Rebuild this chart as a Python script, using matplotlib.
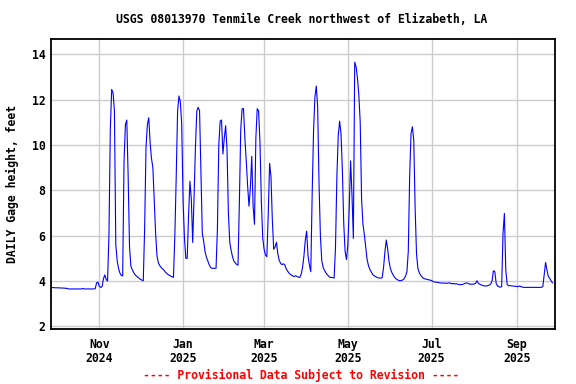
import pandas as pd
import matplotlib
matplotlib.use("Agg")
import matplotlib.pyplot as plt

# ==== DATA (daily gage height, feet) ====
START_DATE = "2024-09-27"

sep_2024 = [3.72, 3.71, 3.71, 3.70]
oct_2024 = [3.70, 3.70, 3.70, 3.69, 3.69, 3.69, 3.68, 3.68, 3.66,
            3.65, 3.65, 3.65, 3.65, 3.65, 3.65, 3.65, 3.65, 3.65, 3.65,
            3.67, 3.65, 3.65, 3.65, 3.65, 3.65, 3.65, 3.65, 3.65,
            3.66, 3.92, 3.95]
nov_2024 = [3.76, 3.72, 3.75, 4.10, 4.27, 4.07, 4.00, 6.00, 10.66, 12.45,
            12.30, 11.50, 5.60, 4.90, 4.55, 4.35, 4.25, 4.22, 9.30, 10.90,
            11.10, 8.60, 5.50, 4.65, 4.50, 4.38, 4.28, 4.22, 4.17, 4.12]
dec_2024 = [4.07, 4.04, 4.01, 6.30, 9.90, 10.90, 11.20, 10.10, 9.40, 9.00,
            7.60, 6.10, 5.10, 4.80, 4.68, 4.60, 4.54, 4.48, 4.40, 4.34,
            4.29, 4.25, 4.22, 4.19, 4.16, 6.00, 8.60, 11.50, 12.16, 11.90,
            10.90]
jan_2025 = [7.50, 5.90, 5.00, 5.00, 6.90, 8.40, 7.60, 5.70, 7.70, 9.90,
            11.50, 11.66, 11.50, 8.80, 6.10, 5.75, 5.30, 5.05, 4.88, 4.72,
            4.60, 4.56, 4.56, 4.56, 4.56, 6.30, 10.00, 11.05, 11.10, 9.60,
            10.30]
feb_2025 = [10.85, 9.80, 7.00, 5.70, 5.35, 5.07, 4.88, 4.80, 4.73, 4.70,
            7.50, 10.70, 11.60, 11.60, 10.30, 9.30, 8.20, 7.30, 8.10, 9.50,
            7.30, 6.50, 10.30, 11.60, 11.50, 10.10, 7.50, 5.90]
mar_2025 = [5.40, 5.15, 5.07, 6.90, 9.19, 8.60, 6.70, 5.40, 5.50, 5.71,
            5.20, 4.92, 4.78, 4.72, 4.76, 4.72, 4.55, 4.45, 4.36, 4.30,
            4.25, 4.22, 4.20, 4.23, 4.20, 4.17, 4.16, 4.30, 4.60, 5.10,
            5.80]
apr_2025 = [6.20, 5.10, 4.70, 4.41, 7.80, 10.60, 12.10, 12.60, 11.70, 8.30,
            6.00, 4.90, 4.60, 4.47, 4.36, 4.28, 4.22, 4.16, 4.16, 4.15,
            4.13, 5.50, 8.60, 10.40, 11.05, 10.50, 8.90, 6.54, 5.30, 4.95]
may_2025 = [5.60, 7.20, 9.30, 7.80, 5.88, 13.65, 13.45, 12.95, 12.20, 11.00,
            7.60, 6.50, 6.05, 5.51, 4.95, 4.68, 4.52, 4.40, 4.30, 4.24,
            4.20, 4.17, 4.14, 4.13, 4.13, 4.15, 4.60, 5.30, 5.81, 5.40,
            4.85]
jun_2025 = [4.55, 4.38, 4.26, 4.17, 4.10, 4.06, 4.03, 4.01, 4.02, 4.05,
            4.10, 4.22, 4.40, 5.30, 8.60, 10.50, 10.80, 10.20, 7.20, 5.20,
            4.56, 4.37, 4.26, 4.18, 4.12, 4.10, 4.08, 4.07, 4.05, 4.04]
jul_2025 = [4.02, 3.98, 3.96, 3.95, 3.94, 3.93, 3.92, 3.91, 3.91, 3.91,
            3.90, 3.90, 3.91, 3.92, 3.89, 3.88, 3.89, 3.87, 3.88, 3.86,
            3.84, 3.84, 3.84, 3.86, 3.89, 3.91, 3.91, 3.88, 3.86, 3.86,
            3.86]
aug_2025 = [3.87, 3.90, 4.01, 3.90, 3.86, 3.83, 3.81, 3.79, 3.78, 3.78,
            3.80, 3.82, 3.87, 4.00, 4.45, 4.42, 3.90, 3.78, 3.75, 3.73,
            3.75, 6.10, 6.98, 4.50, 3.85, 3.79, 3.80, 3.79, 3.78, 3.77,
            3.77]
sep_2025 = [3.76, 3.75, 3.78, 3.76, 3.73, 3.72, 3.72, 3.72, 3.72, 3.72,
            3.72, 3.72, 3.72, 3.72, 3.72, 3.72, 3.72, 3.72, 3.72, 3.76,
            4.30, 4.82, 4.48, 4.20, 4.12, 4.01, 3.92]

tick_dates = ["2024-11-01", "2025-01-01", "2025-03-01",
              "2025-05-01", "2025-07-01", "2025-09-01"]
tick_labels = ["Nov\n2024", "Jan\n2025", "Mar\n2025",
               "May\n2025", "Jul\n2025", "Sep\n2025"]
y_ticks = [2, 4, 6, 8, 10, 12, 14]

TITLE = "USGS 08013970 Tenmile Creek northwest of Elizabeth, LA"
Y_LABEL = "DAILY Gage height, feet"
FOOTER = "---- Provisional Data Subject to Revision ----"

# ==== BUILD SERIES ====
gage = (sep_2024 + oct_2024 + nov_2024 + dec_2024 + jan_2025 + feb_2025
        + mar_2025 + apr_2025 + may_2025 + jun_2025 + jul_2025 + aug_2025
        + sep_2025)
df = pd.DataFrame({
    "date": pd.date_range(START_DATE, periods=len(gage), freq="D"),
    "gage": gage,
})

# ==== PLOT ====
FONT = "DejaVu Sans Mono"
FSIZE = 8.3

fig = plt.figure(figsize=(5.76, 3.84), dpi=100)
ax = fig.add_axes([0.0885, 0.1424, 0.8742, 0.7553])

ax.plot(df["date"], df["gage"], color="#0000ff", linewidth=0.8)

ax.set_xlim(pd.Timestamp("2024-09-26 19:00"), pd.Timestamp("2025-09-28 12:00"))
ax.set_ylim(1.87, 14.66)

ax.set_xticks(pd.to_datetime(tick_dates))
ax.set_xticklabels(tick_labels, fontfamily=FONT, fontweight="bold",
                   fontsize=FSIZE, linespacing=1.1)
ax.set_yticks(y_ticks)
ax.set_yticklabels([str(v) for v in y_ticks], fontfamily=FONT,
                   fontweight="bold", fontsize=FSIZE)
ax.tick_params(axis="both", length=0)
ax.tick_params(axis="x", pad=6)
ax.tick_params(axis="y", pad=4)

ax.grid(True, color="#cccccc", linewidth=1.0)
ax.set_axisbelow(True)
for spine in ax.spines.values():
    spine.set_color("black")
    spine.set_linewidth(1.3)

ax.set_ylabel(Y_LABEL, fontfamily=FONT, fontweight="bold", fontsize=FSIZE,
              labelpad=9)
fig.text(0.523, 0.95, TITLE, ha="center", va="center", fontfamily=FONT,
         fontweight="bold", fontsize=FSIZE)
fig.text(0.523, 0.023, FOOTER, ha="center", va="center", fontfamily=FONT,
         fontweight="bold", fontsize=FSIZE, color="#ff0000")

fig.savefig("out.png", dpi=100)
